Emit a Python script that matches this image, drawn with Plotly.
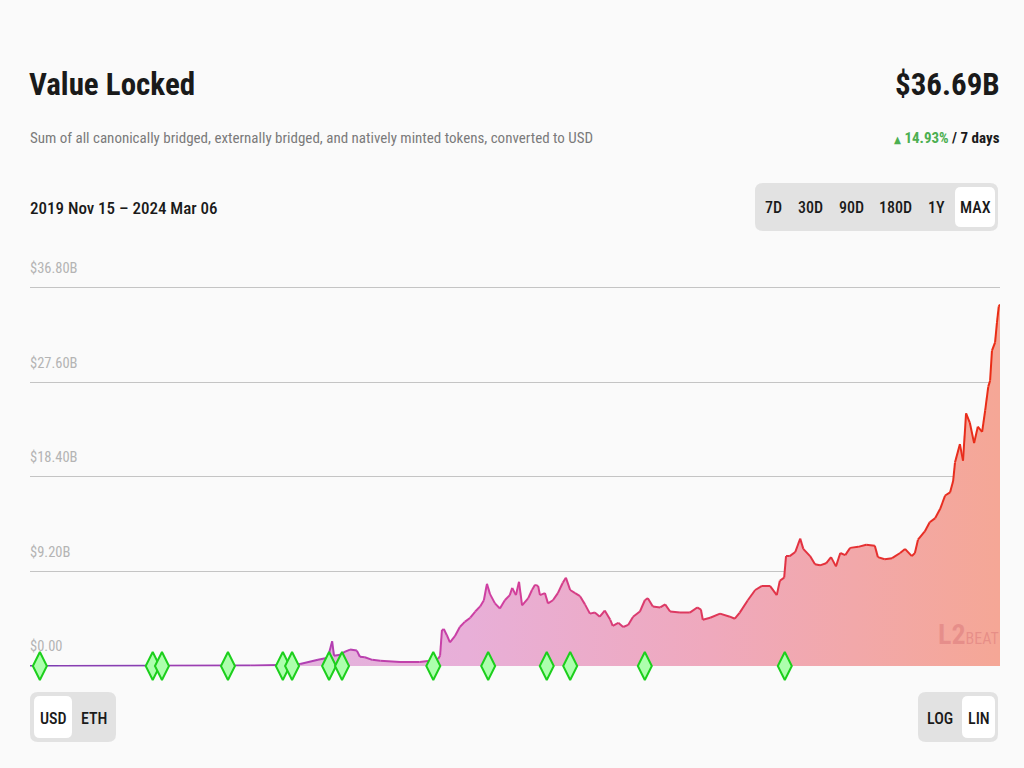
import datetime as dt
import plotly.graph_objects as go

# ---------------- data ----------------
dates = [
    "2019-11-15", "2020-01-01", "2020-05-28", "2020-11-06", "2020-12-24",
    "2021-01-26", "2021-02-24", "2021-03-12", "2021-03-19", "2021-03-22",
    "2021-04-01", "2021-04-09", "2021-04-17", "2021-04-28", "2021-05-03",
    "2021-05-11", "2021-05-23", "2021-06-05", "2021-07-07", "2021-08-08",
    "2021-08-25", "2021-09-07", "2021-09-10", "2021-09-13", "2021-09-16",
    "2021-09-21", "2021-09-26", "2021-10-04", "2021-10-12", "2021-10-20",
    "2021-10-29", "2021-11-06", "2021-11-14", "2021-11-20", "2021-11-25",
    "2021-11-30", "2021-12-08", "2021-12-16", "2021-12-24", "2022-01-01",
    "2022-01-05", "2022-01-11", "2022-01-16", "2022-01-21", "2022-01-31",
    "2022-02-06", "2022-02-11", "2022-02-16", "2022-02-19", "2022-02-27",
    "2022-03-04", "2022-03-12", "2022-03-20", "2022-03-28", "2022-04-02",
    "2022-04-09", "2022-04-17", "2022-04-25", "2022-05-03", "2022-05-11",
    "2022-05-19", "2022-05-27", "2022-06-04", "2022-06-13", "2022-06-17",
    "2022-06-26", "2022-07-04", "2022-07-12", "2022-07-20", "2022-07-31",
    "2022-08-08", "2022-08-13", "2022-08-21", "2022-09-02", "2022-09-10",
    "2022-09-18", "2022-10-04", "2022-10-20", "2022-11-01", "2022-11-07",
    "2022-11-10", "2022-11-22", "2022-12-08", "2022-12-24", "2023-01-01",
    "2023-01-09", "2023-01-22", "2023-02-03", "2023-02-14", "2023-02-27",
    "2023-03-10", "2023-03-15", "2023-03-22", "2023-03-25", "2023-03-31",
    "2023-04-09", "2023-04-17", "2023-04-22", "2023-05-03", "2023-05-11",
    "2023-05-19", "2023-05-29", "2023-06-06", "2023-06-14", "2023-06-21",
    "2023-06-29", "2023-07-07", "2023-07-20", "2023-08-02", "2023-08-16",
    "2023-08-21", "2023-09-01", "2023-09-13", "2023-09-26", "2023-10-04",
    "2023-10-15", "2023-10-20", "2023-10-25", "2023-11-05", "2023-11-13",
    "2023-11-22", "2023-11-30", "2023-12-08", "2023-12-16", "2023-12-21",
    "2023-12-24", "2024-01-01", "2024-01-06", "2024-01-11", "2024-01-17",
    "2024-01-24", "2024-01-30", "2024-02-06", "2024-02-11", "2024-02-16",
    "2024-02-19", "2024-02-22", "2024-02-27", "2024-03-01", "2024-03-04",
    "2024-03-06",
]
values_b = [
    0.0, 0.01, 0.02, 0.05, 0.1,
    0.2, 0.6, 0.8, 2.4, 1.0,
    1.1, 1.4, 1.6, 1.5, 0.9,
    0.85, 0.6, 0.5, 0.4, 0.4,
    0.5, 0.7, 1.0, 3.5, 3.6,
    3.0, 2.3, 2.9, 3.8, 4.3,
    4.7, 5.3, 5.8, 6.4, 8.0,
    7.0, 6.1, 5.6, 6.4, 6.9,
    7.6, 6.9, 8.2, 5.9, 6.6,
    7.4, 7.9, 7.8, 6.9, 7.1,
    6.1, 6.4, 7.1, 8.1, 8.6,
    7.4, 7.1, 6.8, 6.0, 5.1,
    5.2, 4.8, 5.4, 4.5, 3.9,
    4.2, 3.8, 4.0, 4.8, 5.3,
    6.4, 6.6, 5.8, 5.7, 6.0,
    5.3, 5.2, 5.2, 5.7, 5.5,
    4.5, 4.7, 5.1, 4.8, 4.6,
    5.2, 6.4, 7.4, 7.8, 7.8,
    6.9, 8.3, 8.6, 10.7, 10.7,
    11.1, 12.4, 11.4, 10.7, 9.9,
    9.8, 10.0, 10.6, 9.7, 11.0,
    10.8, 11.5, 11.6, 11.8, 11.7,
    10.6, 10.4, 10.5, 11.0, 11.4,
    10.7, 11.0, 12.3, 13.1, 14.0,
    14.4, 15.3, 16.6, 16.9, 18.0,
    19.8, 21.6, 20.0, 24.6, 23.7,
    21.7, 23.3, 22.8, 24.9, 27.2,
    27.8, 30.7, 31.5, 33.4, 35.0,
    35.2,
]
milestone_dates = [
    "2019-12-01", "2020-06-01", "2020-06-16", "2020-10-01", "2020-12-29",
    "2021-01-13", "2021-03-14", "2021-04-04", "2021-08-30", "2021-11-27",
    "2022-03-02", "2022-04-09", "2022-08-08", "2023-03-23",
]
y_ticks = [0, 9.2, 18.4, 27.6, 36.8]
y_tick_labels = ["$0.00", "$9.20B", "$18.40B", "$27.60B", "$36.80B"]
range_buttons = ["7D", "30D", "90D", "180D", "1Y", "MAX"]
unit_buttons = ["USD", "ETH"]
scale_buttons = ["LOG", "LIN"]

title_text = "Value Locked"
subtitle_text = "Sum of all canonically bridged, externally bridged, and natively minted tokens, converted to USD"
total_text = "$36.69B"
change_text = "14.93%"
period_text = "/ 7 days"
date_range_text = "2019 Nov 15 \u2013 2024 Mar 06"

# ---------------- layout helpers ----------------
W, H = 1024, 768
FONT = "Roboto Condensed, Liberation Sans Narrow, Arial Narrow, DejaVu Sans Condensed, Roboto, sans-serif"


def px(x):
    return x / W


def py(y):
    return 1 - y / H


def rounded_rect(x0, y0, x1, y1, r):
    pts = [
        ("M", x0 + r, y0), ("L", x1 - r, y0), ("Q", x1, y0, x1, y0 + r),
        ("L", x1, y1 - r), ("Q", x1, y1, x1 - r, y1), ("L", x0 + r, y1),
        ("Q", x0, y1, x0, y1 - r), ("L", x0, y0 + r), ("Q", x0, y0, x0 + r, y0),
    ]
    out = []
    for p in pts:
        coords = p[1:]
        s = [f"{px(coords[i]):.5f},{py(coords[i + 1]):.5f}" for i in range(0, len(coords), 2)]
        out.append(p[0] + " " + " ".join(s))
    return " ".join(out) + " Z"


def hex_to_rgb(h):
    h = h.lstrip("#")
    return tuple(int(h[i:i + 2], 16) for i in (0, 2, 4))


def interp(stops, t):
    for (t0, c0), (t1, c1) in zip(stops, stops[1:]):
        if t0 <= t <= t1:
            f = 0 if t1 == t0 else (t - t0) / (t1 - t0)
            a, b = hex_to_rgb(c0), hex_to_rgb(c1)
            return "rgb(%d,%d,%d)" % tuple(round(a[i] + (b[i] - a[i]) * f) for i in range(3))
    return stops[-1][1]


line_stops = [(0.0, "#7a3db2"), (0.3, "#b23fb2"), (0.48, "#d040a2"),
              (0.65, "#dc3a66"), (0.8, "#e3323f"), (1.0, "#ea2c14")]
fill_scale = [[0.0, "#dcb6e6"], [0.45, "#e8afd8"], [0.7, "#efa9bd"], [1.0, "#f5a796"]]

d_objs = [dt.date.fromisoformat(d) for d in dates]
t_start, t_end = d_objs[0], d_objs[-1]
span = (t_end - t_start).days

fig = go.Figure()

# gradient area
fig.add_trace(go.Scatter(
    x=dates, y=values_b, mode="lines", line=dict(width=0, color="rgba(0,0,0,0)"),
    fill="tozeroy", fillgradient=dict(type="horizontal", colorscale=fill_scale),
    hoverinfo="skip", showlegend=False,
))

# gradient line drawn segment by segment
for i in range(len(dates) - 1):
    t = ((d_objs[i] - t_start).days + (d_objs[i + 1] - t_start).days) / 2 / span
    fig.add_trace(go.Scatter(
        x=dates[i:i + 2], y=values_b[i:i + 2], mode="lines",
        line=dict(width=2, color=interp(line_stops, t)),
        hoverinfo="skip", showlegend=False,
    ))

# milestones
fig.add_trace(go.Scatter(
    x=milestone_dates, y=[0] * len(milestone_dates), mode="markers",
    marker=dict(symbol="diamond-tall", size=20, color="#adffad",
                line=dict(color="#1ccf1c", width=2)),
    cliponaxis=False, hoverinfo="skip", showlegend=False,
))

y_top = 37.0
y_bot = -0.05
scale_px = 378 / 36.8
dom_top = 666 - y_top * scale_px
dom_bot = 666 - y_bot * scale_px

fig.update_layout(
    width=W, height=H,
    margin=dict(l=0, r=0, t=0, b=0),
    paper_bgcolor="#fafafa", plot_bgcolor="#fafafa",
    font=dict(family=FONT, color="#1a1a1a"),
    xaxis=dict(domain=[px(30), px(1000)], range=[dates[0], dates[-1]],
               showgrid=False, showticklabels=False, zeroline=False, showline=False,
               fixedrange=True),
    yaxis=dict(domain=[py(dom_bot), py(dom_top)], range=[y_bot, y_top],
               tickvals=y_ticks, showticklabels=False, ticks="",
               showgrid=True, gridcolor="#c4c4c4", gridwidth=1,
               zeroline=False, showline=False, fixedrange=True),
)

# y tick labels sit above their grid lines
for v, lab in zip(y_ticks, y_tick_labels):
    fig.add_annotation(
        text=lab, x=px(28), xref="paper", y=v, yref="y",
        xanchor="left", yanchor="middle", yshift=19, showarrow=False,
        font=dict(size=14.5, color="#b4b4b4", family=FONT),
    )

shapes = [
    dict(type="path", path=rounded_rect(755, 183, 998, 231, 8), xref="paper", yref="paper",
         fillcolor="#e2e2e2", line=dict(width=0), layer="below"),
    dict(type="path", path=rounded_rect(955, 187, 995, 227, 6), xref="paper", yref="paper",
         fillcolor="#ffffff", line=dict(width=0), layer="below"),
    dict(type="path", path=rounded_rect(30, 692, 116, 742, 8), xref="paper", yref="paper",
         fillcolor="#e2e2e2", line=dict(width=0), layer="below"),
    dict(type="path", path=rounded_rect(34, 696, 72, 738, 6), xref="paper", yref="paper",
         fillcolor="#ffffff", line=dict(width=0), layer="below"),
    dict(type="path", path=rounded_rect(918, 692, 998, 742, 8), xref="paper", yref="paper",
         fillcolor="#e2e2e2", line=dict(width=0), layer="below"),
    dict(type="path", path=rounded_rect(962, 696, 995, 738, 6), xref="paper", yref="paper",
         fillcolor="#ffffff", line=dict(width=0), layer="below"),
]
fig.update_layout(shapes=shapes)


def ann(text, x, y, size, color="#1a1a1a", xanchor="left", bold=False, weight=None):
    f = dict(size=size, color=color, family=FONT)
    if weight:
        f["weight"] = weight
    fig.add_annotation(
        text=f"<b>{text}</b>" if bold else text, x=px(x), y=py(y),
        xref="paper", yref="paper", xanchor=xanchor, yanchor="middle",
        showarrow=False, font=f,
    )


ann(title_text, 27, 84, 31, bold=True)
ann(subtitle_text, 28, 138, 15, color="#7a7a7a")
ann(total_text, 1002, 84, 31, xanchor="right", bold=True)
ann(f"<span style='color:#4caf50;font-size:10px'>\u25b2</span> "
    f"<span style='color:#4caf50'><b>{change_text}</b></span> <b>{period_text}</b>",
    1002, 138, 15, xanchor="right")
ann(date_range_text, 28, 208, 17, weight=500)

btn_x = [773, 810, 851, 895, 936, 975]
for label, x in zip(range_buttons, btn_x):
    ann(label, x, 208, 16, xanchor="center", weight=500)
for label, x in zip(unit_buttons, [53, 94]):
    ann(label, x, 718, 16, xanchor="center", weight=500)
for label, x in zip(scale_buttons, [940, 979]):
    ann(label, x, 718, 16, xanchor="center", weight=500)

# watermark
ann("<span style='font-size:28px'><b>L2</b></span>BEAT", 968, 634, 16,
    color="rgba(205,95,105,0.35)", xanchor="center")

fig.write_html(
    "out.html",
    config={"displayModeBar": False},
    post_script="document.body.style.margin='0';document.body.style.background='#fafafa';"
                "document.body.style.overflow='hidden';",
)
